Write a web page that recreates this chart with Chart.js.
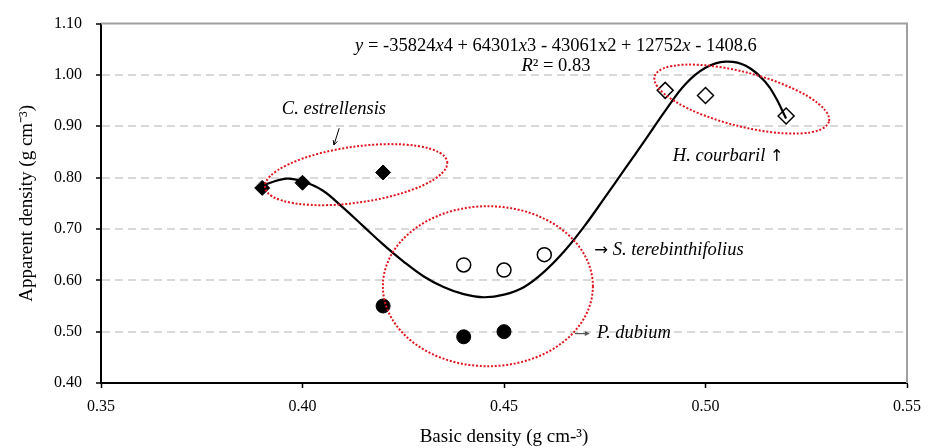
<!DOCTYPE html>
<html>
<head>
<meta charset="utf-8">
<script src="https://cdn.jsdelivr.net/npm/chart.js@4"></script>
<style>
html,body{margin:0;padding:0;background:#fff;}
#wrap{width:936px;height:448px;position:relative;}
</style>
</head>
<body>
<div id="wrap"><canvas id="c" width="936" height="448"></canvas></div>
<script>
// ---- data ----
const xTicks = [0.35, 0.40, 0.45, 0.50, 0.55];
const yTicks = [0.40, 0.50, 0.60, 0.70, 0.80, 0.90, 1.00, 1.10];

const estrellensisX = [0.39, 0.40, 0.42];
const estrellensisY = [0.78, 0.79, 0.81];
const dubiumX = [0.42, 0.44, 0.45];
const dubiumY = [0.55, 0.49, 0.50];
const terebinthifoliusX = [0.44, 0.45, 0.46];
const terebinthifoliusY = [0.63, 0.62, 0.65];
const courbarilX = [0.49, 0.50, 0.52];
const courbarilY = [0.97, 0.96, 0.92];

// polynomial trendline
const trendX = [0.390, 0.396, 0.400, 0.405, 0.410, 0.415, 0.420, 0.425, 0.430, 0.435, 0.440, 0.445, 0.450, 0.455, 0.460, 0.465, 0.470, 0.475, 0.480, 0.485, 0.490, 0.495, 0.500, 0.505, 0.510, 0.515, 0.5175, 0.520];
const trendY = [0.785, 0.798, 0.793, 0.775, 0.742, 0.706, 0.670, 0.637, 0.608, 0.587, 0.573, 0.567, 0.572, 0.587, 0.617, 0.657, 0.706, 0.761, 0.817, 0.873, 0.930, 0.982, 1.014, 1.026, 1.018, 0.985, 0.955, 0.915];

const xTitle = 'Basic density (g cm-³)';
const yTitle = 'Apparent density (g cm⁻³)';

const pts = (xs, ys) => xs.map((v, i) => ({x: v, y: ys[i]}));

const FONT = "'Liberation Serif', 'Times New Roman', serif";
const ARROWFONT = "'DejaVu Sans', sans-serif";
Chart.defaults.font.family = FONT;
Chart.defaults.color = '#000';

// ---- annotations (ellipses, labels) ----
const ellipses = [
  {cx: 0.4133, cy: 0.8058, rx: 92, ry: 28, rot: -8},
  {cx: 0.4460, cy: 0.5885, rx: 105, ry: 80, rot: 0},
  {cx: 0.5090, cy: 0.9530, rx: 90, ry: 27, rot: 14.5}
];
// run: [text, style] style: 'n' normal, 'i' italic, 'a' arrow glyph
const labels = [
  {x: 0.4629, y: 1.0558, align: 'center', runs: [
    ['y', 'i'], [' = -35824', 'n'], ['x', 'i'], ['4 + 64301', 'n'], ['x', 'i'],
    ['3 - 43061x2 + 12752', 'n'], ['x', 'i'], [' - 1408.6', 'n']]},
  {x: 0.4629, y: 1.0173, align: 'center', runs: [['R', 'i'], ['² = 0.83', 'n']]},
  {x: 0.4078, y: 0.9327, align: 'center', runs: [['C. estrellensis', 'i']]},
  {x: 0.4919, y: 0.8423, align: 'left', runs: [['H. courbaril ', 'i'], ['↑', 'a']]},
  {x: 0.4724, y: 0.6596, align: 'left', runs: [['→', 'a'], [' S. terebinthifolius', 'i']]},
  {x: 0.4731, y: 0.4962, align: 'left', runs: [['P. dubium', 'i']]}
];

function runFont(style, size) {
  if (style === 'a') return (size - 2) + 'px ' + ARROWFONT;
  return (style === 'i' ? 'italic ' : '') + size + 'px ' + FONT;
}

function drawRuns(ctx, runs, px, py, align, size) {
  let total = 0;
  const widths = runs.map(r => {
    ctx.font = runFont(r[1], size);
    const w = ctx.measureText(r[0]).width;
    total += w;
    return w;
  });
  let x = align === 'center' ? px - total / 2 : px;
  ctx.textBaseline = 'middle';
  ctx.textAlign = 'left';
  runs.forEach((r, i) => {
    ctx.font = runFont(r[1], size);
    ctx.fillText(r[0], x, py + (r[1] === 'a' ? 1 : 0));
    x += widths[i];
  });
}

const annotPlugin = {
  id: 'annot',
  beforeDatasetsDraw(chart) {
    const {ctx, chartArea: a} = chart;
    ctx.save();
    ctx.strokeStyle = '#a0a0a0';
    ctx.lineWidth = 2;
    ctx.beginPath();
    ctx.moveTo(a.left, a.top);
    ctx.lineTo(a.right, a.top);
    ctx.lineTo(a.right, a.bottom);
    ctx.stroke();
    ctx.restore();
  },
  afterDatasetsDraw(chart) {
    const {ctx, scales: {x, y}} = chart;
    ctx.save();
    // dotted ellipses
    ctx.strokeStyle = '#e0141e';
    ctx.lineWidth = 2;
    ctx.setLineDash([2, 1.8]);
    ellipses.forEach(e => {
      ctx.beginPath();
      ctx.ellipse(x.getPixelForValue(e.cx), y.getPixelForValue(e.cy), e.rx, e.ry, e.rot * Math.PI / 180, 0, Math.PI * 2);
      ctx.stroke();
    });
    ctx.setLineDash([]);
    // labels
    ctx.fillStyle = '#000';
    labels.forEach(l => drawRuns(ctx, l.runs, x.getPixelForValue(l.x), y.getPixelForValue(l.y), l.align, 18.5));
    // arrow under C. estrellensis
    const ax1 = x.getPixelForValue(0.4091), ay1 = y.getPixelForValue(0.8962);
    const ax2 = x.getPixelForValue(0.4078), ay2 = y.getPixelForValue(0.8635);
    ctx.strokeStyle = '#000';
    ctx.lineWidth = 1;
    ctx.beginPath();
    ctx.moveTo(ax1, ay1); ctx.lineTo(ax2, ay2);
    const ang = Math.atan2(ay2 - ay1, ax2 - ax1);
    ctx.moveTo(ax2, ay2); ctx.lineTo(ax2 - 5 * Math.cos(ang - 0.45), ay2 - 5 * Math.sin(ang - 0.45));
    ctx.moveTo(ax2, ay2); ctx.lineTo(ax2 - 5 * Math.cos(ang + 0.45), ay2 - 5 * Math.sin(ang + 0.45));
    ctx.stroke();
    // small arrow before P. dubium
    const bx1 = x.getPixelForValue(0.4676), bx2 = x.getPixelForValue(0.4713), by = y.getPixelForValue(0.4962);
    ctx.strokeStyle = '#555';
    ctx.fillStyle = '#555';
    ctx.lineWidth = 1.2;
    ctx.beginPath(); ctx.moveTo(bx1, by); ctx.lineTo(bx2 - 4, by); ctx.stroke();
    ctx.beginPath(); ctx.moveTo(bx2, by); ctx.lineTo(bx2 - 5, by - 2.5); ctx.lineTo(bx2 - 5, by + 2.5); ctx.closePath(); ctx.fill();
    ctx.restore();
  }
};

new Chart(document.getElementById('c'), {
  type: 'scatter',
  data: {
    datasets: [
      {label: 'Trend', data: pts(trendX, trendY), showLine: true, borderColor: '#000', borderWidth: 2.2,
       pointRadius: 0, tension: 0.4, fill: false, order: 0},
      {label: 'C. estrellensis', data: pts(estrellensisX, estrellensisY), pointStyle: 'rectRot', pointRadius: 7.5,
       backgroundColor: '#000', borderColor: '#000', borderWidth: 1, order: 1},
      {label: 'P. dubium', data: pts(dubiumX, dubiumY), pointStyle: 'circle', pointRadius: 7,
       backgroundColor: '#000', borderColor: '#000', borderWidth: 1, order: 1},
      {label: 'S. terebinthifolius', data: pts(terebinthifoliusX, terebinthifoliusY), pointStyle: 'circle', pointRadius: 7,
       backgroundColor: '#fff', borderColor: '#000', borderWidth: 1.5, order: 1},
      {label: 'H. courbaril', data: pts(courbarilX, courbarilY), pointStyle: 'rectRot', pointRadius: 8,
       backgroundColor: '#fff', borderColor: '#000', borderWidth: 1.5, order: 1}
    ]
  },
  options: {
    responsive: false,
    animation: false,
    devicePixelRatio: 1,
    layout: {padding: {top: 19, right: 29, left: 0, bottom: 0}},
    plugins: {legend: {display: false}, tooltip: {enabled: false}},
    scales: {
      x: {
        type: 'linear', min: 0.35, max: 0.55,
        afterBuildTicks: s => { s.ticks = xTicks.map(v => ({value: v})); },
        afterFit: s => { s.height = 65; },
        ticks: {callback: v => Number(v).toFixed(2), padding: 9, color: '#000', font: {size: 16}},
        grid: {drawOnChartArea: false, drawTicks: true, tickLength: 5, tickColor: '#000', tickWidth: 1.5},
        border: {color: '#000', width: 2},
        title: {display: true, text: xTitle, color: '#000', font: {size: 19}, padding: {top: 1, bottom: 0}}
      },
      y: {
        type: 'linear', min: 0.40, max: 1.10,
        afterBuildTicks: s => { s.ticks = yTicks.map(v => ({value: v})); },
        afterFit: s => { s.width = 101; },
        ticks: {callback: v => Number(v).toFixed(2), padding: 14, color: '#000', font: {size: 16}},
        grid: {
          color: c => (c.tick && c.tick.value > 0.405 && c.tick.value < 1.095) ? '#d9d9d9' : 'rgba(0,0,0,0)',
          lineWidth: 2, drawTicks: true, tickLength: 5, tickColor: '#000', tickWidth: 1.5
        },
        border: {color: '#000', width: 2, dash: [8, 5]},
        title: {display: true, text: yTitle, color: '#000', font: {size: 19}, padding: {top: 16, bottom: 0}}
      }
    }
  },
  plugins: [annotPlugin]
});
</script>
</body>
</html>
